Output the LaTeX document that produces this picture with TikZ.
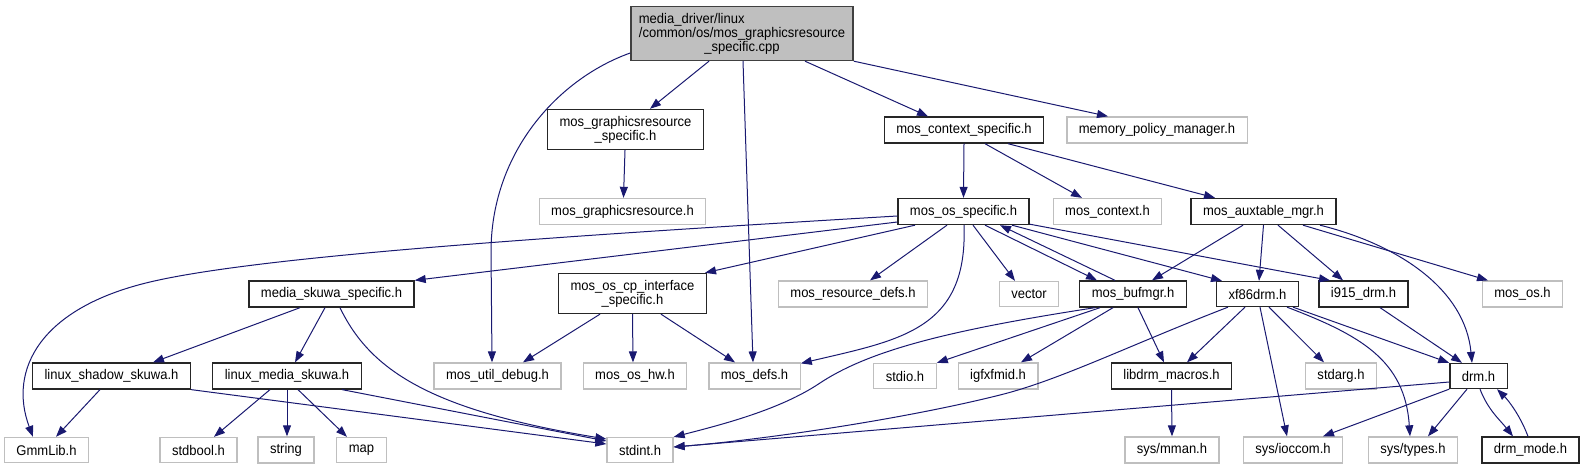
\documentclass[tikz,border=0pt]{standalone}
\usepackage{fontspec}
\setmainfont{Liberation Sans}[FakeStretch=0.93]
\usetikzlibrary{arrows.meta}
\definecolor{edgeblue}{HTML}{191970}
\definecolor{lightframe}{HTML}{BFBFBF}
\definecolor{darkframe}{HTML}{404040}
\begin{document}
\begin{tikzpicture}[
    x=1pt, y=-1pt,
    font=\fontsize{14}{14}\selectfont,
    box/.style={draw=black!85, line width=1.3pt, inner xsep=12pt, inner ysep=6.5pt, minimum height=25pt, align=center},
    gbox/.style={box, draw=lightframe},
    rootbox/.style={box, draw=darkframe, fill=lightframe, inner xsep=8pt},
    arr/.style={-{Triangle[length=11pt, width=8pt]}, draw=edgeblue, line width=1pt},
  ]
  \useasboundingbox (0,0) rectangle (1583,469);
  % rows of headers, top to bottom
  \node[rootbox] (n-root) at (742,33.5) {\rlap{media\_driver/linux}\phantom{/common/os/mos\_graphicsresource}\\/common/os/mos\_graphicsresource\\\_specific.cpp};
  \node[box]  (n-grspec) at (625.5,129.5) {mos\_graphicsresource\\\_specific.h};
  \node[box]  (n-ctxspec) at (964,130) {mos\_context\_specific.h};
  \node[gbox] (n-mempol) at (1157,130) {memory\_policy\_manager.h};
  \node[gbox] (n-grres) at (622.5,211.5) {mos\_graphicsresource.h};
  \node[box]  (n-osspec) at (963.5,211.5) {mos\_os\_specific.h};
  \node[gbox] (n-ctx) at (1107.5,211.5) {mos\_context.h};
  \node[box]  (n-aux) at (1263.5,211.5) {mos\_auxtable\_mgr.h};
  \node[box]  (n-skuwa) at (331.5,294) {media\_skuwa\_specific.h};
  \node[box]  (n-cpif) at (632.5,293.5) {mos\_os\_cp\_interface\\\_specific.h};
  \node[gbox] (n-resdefs) at (853,294) {mos\_resource\_defs.h};
  \node[gbox] (n-vector) at (1029,294) {vector};
  \node[box]  (n-bufmgr) at (1133,294) {mos\_bufmgr.h};
  \node[box]  (n-xf86) at (1257.5,294) {xf86drm.h};
  \node[box]  (n-i915) at (1363.5,294) {i915\_drm.h};
  \node[gbox] (n-mosos) at (1522.5,294) {mos\_os.h};
  \node[box]  (n-shadow) at (111.5,376) {linux\_shadow\_skuwa.h};
  \node[box]  (n-lmedia) at (287,376) {linux\_media\_skuwa.h};
  \node[gbox] (n-utildbg) at (497.5,376) {mos\_util\_debug.h};
  \node[gbox] (n-oshw) at (635,376) {mos\_os\_hw.h};
  \node[gbox] (n-defs) at (754.5,376) {mos\_defs.h};
  \node[gbox] (n-stdio) at (905,376) {stdio.h};
  \node[gbox] (n-igfx) at (998,376) {igfxfmid.h};
  \node[box]  (n-libdrm) at (1171.5,376) {libdrm\_macros.h};
  \node[gbox] (n-stdarg) at (1341,376) {stdarg.h};
  \node[box]  (n-drm) at (1478.5,376) {drm.h};
  \node[gbox] (n-gmm) at (46.5,450) {GmmLib.h};
  \node[gbox] (n-stdbool) at (198.5,450) {stdbool.h};
  \node[gbox] (n-string) at (286,450) {string};
  \node[gbox] (n-map) at (361.5,450) {map};
  \node[gbox] (n-stdint) at (640,450) {stdint.h};
  \node[gbox] (n-mman) at (1172,450) {sys/mman.h};
  \node[gbox] (n-ioccom) at (1293,450) {sys/ioccom.h};
  \node[gbox] (n-types) at (1413,450) {sys/types.h};
  \node[box]  (n-drmmode) at (1530.5,450) {drm\_mode.h};
  % root
  \draw[arr] ([yshift=-19.5pt]n-root.west) .. controls (560,78) and (492,150) .. (491,250) -- ([xshift=-5.5pt]n-utildbg.north);
  \draw[arr] ([xshift=-33pt]n-root.south) -- ([xshift=24.5pt]n-grspec.north);
  \draw[arr] ([xshift=1pt]n-root.south) -- ([xshift=-1.5pt]n-defs.north);
  \draw[arr] ([xshift=63pt]n-root.south) -- ([xshift=-36pt]n-ctxspec.north);
  \draw[arr] (n-root.south east) -- ([xshift=-49pt]n-mempol.north);
  \draw[arr] ([xshift=-0.5pt]n-grspec.south) -- ([xshift=1pt]n-grres.north);
  % mos_context_specific.h
  \draw[arr] (n-ctxspec.south) -- (n-osspec.north);
  \draw[arr] ([xshift=21pt]n-ctxspec.south) -- ([xshift=-25.5pt]n-ctx.north);
  \draw[arr] ([xshift=44pt]n-ctxspec.south) -- ([xshift=-48.5pt]n-aux.north);
  % mos_os_specific.h
  \draw[arr] ([yshift=-4.5pt]n-osspec.west) .. controls (560,236) and (260,256) .. (150,282) .. controls (40,308) and (8,370) .. ([xshift=-13.5pt]n-gmm.north);
  \draw[arr] ([yshift=-10.5pt]n-osspec.west) -- (n-skuwa.north east);
  \draw[arr] ([xshift=-48.5pt]n-osspec.south) -- ([xshift=-2pt]n-cpif.north east);
  \draw[arr] ([xshift=-16.5pt]n-osspec.south) -- ([xshift=17pt]n-resdefs.north);
  \draw[arr] ([xshift=0.5pt]n-osspec.south) .. controls (968,330) and (900,340) .. ([yshift=-1pt]n-defs.north east);
  \draw[arr] ([xshift=9.5pt]n-osspec.south) -- ([xshift=-14pt]n-vector.north);
  \draw[arr] ([xshift=21.5pt]n-osspec.south) -- ([xshift=-36pt]n-bufmgr.north);
  \draw[arr] ([xshift=-18pt]n-bufmgr.north) -- ([xshift=36.5pt]n-osspec.south);
  \draw[arr] ([xshift=48.5pt]n-osspec.south) -- ([xshift=-35.5pt]n-xf86.north);
  \draw[arr] ([yshift=1pt]n-osspec.south east) -- ([xshift=-33.5pt]n-i915.north);
  % mos_auxtable_mgr.h
  \draw[arr] ([xshift=-20.5pt]n-aux.south) -- ([xshift=19pt]n-bufmgr.north);
  \draw[arr] (n-aux.south) -- ([xshift=1.5pt]n-xf86.north);
  \draw[arr] ([xshift=14.5pt]n-aux.south) -- ([xshift=-20.5pt]n-i915.north);
  \draw[arr] ([xshift=39.5pt]n-aux.south) -- ([xshift=-34.5pt]n-mosos.north);
  \draw[arr] ([xshift=56.5pt]n-aux.south) .. controls (1400,245) and (1465,290) .. ([xshift=-6.5pt]n-drm.north);
  % media_skuwa_specific.h
  \draw[arr] ([xshift=-31.5pt]n-skuwa.south) -- ([xshift=41.5pt]n-shadow.north);
  \draw[arr] ([xshift=-6.5pt]n-skuwa.south) -- ([xshift=8pt]n-lmedia.north);
  \draw[arr] ([xshift=8.5pt]n-skuwa.south) .. controls (370,370) and (430,410) .. ([yshift=11pt]n-stdint.west);
  % mos_os_cp_interface_specific.h
  \draw[arr] ([xshift=-32.5pt]n-cpif.south) -- ([xshift=25.5pt]n-utildbg.north);
  \draw[arr] (n-cpif.south) -- ([xshift=-2pt]n-oshw.north);
  \draw[arr] ([xshift=28.5pt]n-cpif.south) -- ([xshift=-19.5pt]n-defs.north);
  % skuwa headers
  \draw[arr] ([xshift=-11.5pt]n-shadow.south) -- ([xshift=9.5pt]n-gmm.north);
  \draw[arr] (n-shadow.south east) -- ([yshift=6pt]n-stdint.west);
  \draw[arr] ([xshift=-17pt]n-lmedia.south) -- ([xshift=15.5pt]n-stdbool.north);
  \draw[arr] (n-lmedia.south) -- ([xshift=1pt]n-string.north);
  \draw[arr] ([xshift=11pt]n-lmedia.south) -- ([xshift=-14.5pt]n-map.north);
  \draw[arr] ([xshift=55pt]n-lmedia.south) -- ([yshift=9pt]n-stdint.west);
  % mos_bufmgr.h
  \draw[arr] ([xshift=-38pt]n-bufmgr.south) .. controls (950,330) and (870,350) .. (820,383) .. controls (780,410) and (720,425) .. ([yshift=13pt]n-stdint.east);
  \draw[arr] ([xshift=-33pt]n-bufmgr.south) -- (n-stdio.north east);
  \draw[arr] ([xshift=-20pt]n-bufmgr.south) -- ([xshift=23pt]n-igfx.north);
  \draw[arr] ([xshift=5pt]n-bufmgr.south) -- ([xshift=-7.5pt]n-libdrm.north);
  % xf86drm.h
  \draw[arr] ([xshift=-29.5pt]n-xf86.south) .. controls (1130,345) and (1060,380) .. (1000,395) .. controls (900,420) and (760,440) .. ([yshift=3pt]n-stdint.east);
  \draw[arr] ([xshift=-12.5pt]n-xf86.south) -- ([xshift=15.5pt]n-libdrm.north);
  \draw[arr] ([xshift=2.5pt]n-xf86.south) -- ([xshift=-6pt]n-ioccom.north);
  \draw[arr] ([xshift=11.5pt]n-xf86.south) -- ([xshift=-17pt]n-stdarg.north);
  \draw[arr] ([xshift=35.5pt]n-xf86.south) -- (n-drm.north west);
  \draw[arr] ([xshift=29.5pt]n-xf86.south) .. controls (1360,335) and (1405,360) .. ([xshift=-3pt]n-types.north);
  \draw[arr] ([xshift=16.5pt]n-i915.south) -- ([xshift=-16.5pt]n-drm.north);
  \draw[arr] (n-libdrm.south) -- (n-mman.north);
  % drm.h
  \draw[arr] ([yshift=-6pt]n-drm.west) -- ([yshift=3pt]n-stdint.east);
  \draw[arr] (n-drm.south west) -- ([xshift=30pt]n-ioccom.north);
  \draw[arr] ([xshift=-11.5pt]n-drm.south) -- ([xshift=15pt]n-types.north);
  \draw[arr] ([xshift=1.5pt]n-drm.south) .. controls (1488,410) and (1500,420) .. ([xshift=-17.5pt]n-drmmode.north);
  \draw[arr] ([xshift=-2.5pt]n-drmmode.north) .. controls (1520,415) and (1508,400) .. ([xshift=18.5pt]n-drm.south);
\end{tikzpicture}
\end{document}
